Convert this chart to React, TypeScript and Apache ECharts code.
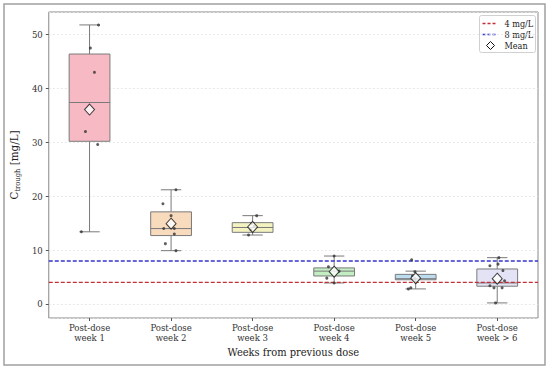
import React, { useEffect, useRef } from "react";
import * as echarts from "echarts";

const categories = [
  "Post-dose\nweek 1",
  "Post-dose\nweek 2",
  "Post-dose\nweek 3",
  "Post-dose\nweek 4",
  "Post-dose\nweek 5",
  "Post-dose\nweek > 6",
];

// box statistics
const whiskerLow = [13.4, 9.9, 12.8, 3.9, 2.8, 0.2];
const q1 = [30.2, 12.7, 13.3, 5.2, 4.5, 3.3];
const medians = [37.4, 14.0, 14.2, 6.1, 4.7, 3.9];
const q3 = [46.4, 17.1, 15.1, 6.7, 5.5, 6.5];
const whiskerHigh = [51.8, 21.2, 16.4, 8.9, 6.1, 8.6];
const means = [36.1, 14.9, 14.3, 6.0, 4.8, 4.7];

// individual observations (value) and their horizontal jitter (category units)
const obs1 = [51.8, 47.5, 43.0, 32.0, 29.6, 13.4];
const jit1 = [0.11, 0.01, 0.06, -0.05, 0.1, -0.1];
const obs2 = [21.2, 18.6, 16.4, 14.0, 14.0, 13.0, 11.2, 9.9];
const jit2 = [0.06, -0.1, 0.0, -0.09, 0.04, 0.04, -0.07, 0.06];
const obs3 = [16.4, 15.0, 14.4, 13.8, 12.8];
const jit3 = [0.05, -0.01, 0.02, -0.02, -0.05];
const obs4 = [8.9, 6.9, 6.1, 4.8, 3.9];
const jit4 = [0.0, -0.07, 0.06, -0.09, 0.0];
const obs5 = [8.2, 6.0, 5.2, 4.7, 4.1, 3.0, 2.8];
const jit5 = [-0.05, -0.01, -0.04, -0.01, 0.0, -0.06, -0.09];
const obs6 = [8.6, 7.1, 7.4, 6.2, 4.3, 3.4, 3.0, 3.0, 0.2];
const jit6 = [0.02, -0.09, 0.01, 0.07, 0.09, -0.09, -0.04, 0.06, -0.02];

const observations = [obs1, obs2, obs3, obs4, obs5, obs6];
const jitters = [jit1, jit2, jit3, jit4, jit5, jit6];

const thresholdLow = 4;
const thresholdHigh = 8;
const legendLabels = ["4 mg/L", "8 mg/L", "Mean"];

const boxFills = ["#f7bac4", "#f8dabd", "#f4f2c0", "#c3eec3", "#bedcef", "#e4e3f6"];
const FONT = "'DejaVu Serif Condensed', 'DejaVu Serif', serif";
const RED = "#c0303a";
const BLUE = "#3535d0";

export default function App() {
  const ref = useRef<HTMLDivElement>(null);
  useEffect(() => {
    const chart = echarts.init(ref.current!, null, { renderer: "svg" });

    const boxData = categories.map((_, i) => [
      i,
      whiskerLow[i],
      q1[i],
      medians[i],
      q3[i],
      whiskerHigh[i],
    ]);
    const pointData: number[][] = [];
    observations.forEach((arr, i) =>
      arr.forEach((v, k) => pointData.push([i + jitters[i][k], v]))
    );
    const lineColor = "#7a7a7a";
    const legendFont = { fontSize: 9, fontFamily: FONT, fill: "#222" };

    chart.setOption({
      animation: false,
      textStyle: { fontFamily: FONT },
      graphic: [
        {
          type: "rect",
          shape: { x: 4, y: 4, width: 541, height: 361 },
          style: { fill: "none", stroke: "#a0a0a0", lineWidth: 1.5 },
          silent: true,
          z: 0,
        },
        {
          type: "group",
          left: 479,
          top: 15,
          z: 100,
          children: [
            {
              type: "rect",
              shape: { x: 0, y: 0, width: 56, height: 37, r: 2 },
              style: { fill: "#fff", stroke: "#d0d0d0", lineWidth: 1 },
            },
            {
              type: "line",
              shape: { x1: 3, y1: 8, x2: 18, y2: 8 },
              style: { stroke: RED, lineWidth: 1.3, lineDash: [3, 2] },
            },
            {
              type: "line",
              shape: { x1: 3, y1: 19, x2: 18, y2: 19 },
              style: { stroke: BLUE, lineWidth: 1.4, lineDash: [3, 2] },
            },
            {
              type: "polygon",
              shape: { points: [[11, 26], [15, 30], [11, 34], [7, 30]] },
              style: { fill: "#fff", stroke: "#111", lineWidth: 1 },
            },
            {
              type: "text",
              x: 25,
              y: 8,
              style: { ...legendFont, text: legendLabels[0], verticalAlign: "middle" },
            },
            {
              type: "text",
              x: 25,
              y: 19,
              style: { ...legendFont, text: legendLabels[1], verticalAlign: "middle" },
            },
            {
              type: "text",
              x: 25,
              y: 30,
              style: { ...legendFont, text: legendLabels[2], verticalAlign: "middle" },
            },
          ],
        },
      ],
      grid: {
        left: 48,
        right: 12,
        top: 12,
        bottom: 52,
        show: true,
        borderColor: "#888",
        borderWidth: 1,
        backgroundColor: "transparent",
      },
      xAxis: [
        {
          type: "category",
          data: categories,
          boundaryGap: true,
          name: "Weeks from previous dose",
          nameLocation: "middle",
          nameGap: 28,
          nameTextStyle: { fontSize: 11, fontFamily: FONT, color: "#222" },
          axisLine: { show: false, onZero: false },
          axisTick: { show: true, alignWithLabel: true, length: 3, lineStyle: { color: "#555" } },
          axisLabel: { fontSize: 9.5, fontFamily: FONT, color: "#333", lineHeight: 9.5, margin: 5 },
          splitLine: { show: false },
        },
        {
          type: "value",
          min: -0.5,
          max: 5.5,
          show: false,
          axisLine: { show: false, onZero: false },
        },
      ],
      yAxis: {
        type: "value",
        min: -2.6,
        max: 54.2,
        splitNumber: 5,
        name: "{c|C}{s|trough}{c| [mg/L]}",
        nameLocation: "middle",
        nameGap: 27,
        nameRotate: 90,
        nameTextStyle: {
          color: "#222",
          rich: {
            c: { fontSize: 11.5, fontFamily: FONT, color: "#222", lineHeight: 14, verticalAlign: "middle" },
            s: { fontSize: 7.5, fontFamily: FONT, color: "#222", lineHeight: 7, verticalAlign: "bottom" },
          },
        },
        axisLine: { show: false, onZero: false },
        axisTick: { show: true, length: 3, lineStyle: { color: "#555" } },
        axisLabel: {
          fontSize: 9.5,
          fontFamily: FONT,
          color: "#333",
          showMinLabel: false,
          showMaxLabel: false,
          margin: 6,
        },
        splitLine: { show: true, lineStyle: { color: "#e2e2e2", type: [2, 2], width: 0.8 } },
      },
      series: [
        {
          type: "custom",
          name: "box",
          xAxisIndex: 0,
          yAxisIndex: 0,
          z: 2,
          encode: { x: 0, y: [1, 2, 3, 4, 5] },
          data: boxData,
          renderItem: (params: any, api: any) => {
            const idx = api.value(0);
            const band = api.size([1, 0])[0];
            const half = band * 0.25;
            const capHalf = band * 0.125;
            const pLow = api.coord([idx, api.value(1)]);
            const pQ1 = api.coord([idx, api.value(2)]);
            const pMed = api.coord([idx, api.value(3)]);
            const pQ3 = api.coord([idx, api.value(4)]);
            const pHigh = api.coord([idx, api.value(5)]);
            const cx = pMed[0];
            const stroke = { stroke: lineColor, lineWidth: 1 };
            return {
              type: "group",
              children: [
                {
                  type: "line",
                  shape: { x1: cx, y1: pQ3[1], x2: cx, y2: pHigh[1] },
                  style: stroke,
                },
                {
                  type: "line",
                  shape: { x1: cx, y1: pQ1[1], x2: cx, y2: pLow[1] },
                  style: stroke,
                },
                {
                  type: "line",
                  shape: { x1: cx - capHalf, y1: pHigh[1], x2: cx + capHalf, y2: pHigh[1] },
                  style: stroke,
                },
                {
                  type: "line",
                  shape: { x1: cx - capHalf, y1: pLow[1], x2: cx + capHalf, y2: pLow[1] },
                  style: stroke,
                },
                {
                  type: "rect",
                  shape: { x: cx - half, y: pQ3[1], width: half * 2, height: pQ1[1] - pQ3[1] },
                  style: { fill: boxFills[params.dataIndex], stroke: lineColor, lineWidth: 1 },
                },
                {
                  type: "line",
                  shape: { x1: cx - half, y1: pMed[1], x2: cx + half, y2: pMed[1] },
                  style: stroke,
                },
              ],
            };
          },
        },
        {
          type: "line",
          name: "4 mg/L",
          xAxisIndex: 1,
          z: 3,
          symbol: "none",
          data: [
            [-0.5, thresholdLow],
            [5.5, thresholdLow],
          ],
          lineStyle: { color: RED, width: 1.2, type: [4, 2] },
        },
        {
          type: "line",
          name: "8 mg/L",
          xAxisIndex: 1,
          z: 3,
          symbol: "none",
          data: [
            [-0.5, thresholdHigh],
            [5.5, thresholdHigh],
          ],
          lineStyle: { color: BLUE, width: 1.5, type: [4, 2] },
        },
        {
          type: "scatter",
          name: "points",
          xAxisIndex: 1,
          z: 4,
          symbolSize: 3,
          itemStyle: { color: "#333" },
          data: pointData,
        },
        {
          type: "scatter",
          name: "Mean",
          xAxisIndex: 0,
          z: 5,
          symbol: "diamond",
          symbolSize: [10, 11],
          itemStyle: { color: "#fff", borderColor: "#111", borderWidth: 1 },
          data: means,
        },
      ],
    });
    return () => chart.dispose();
  }, []);
  return (
    <div
      ref={ref}
      style={{ position: "fixed", left: 0, top: 0, width: 550, height: 370, background: "#fff" }}
    />
  );
}
